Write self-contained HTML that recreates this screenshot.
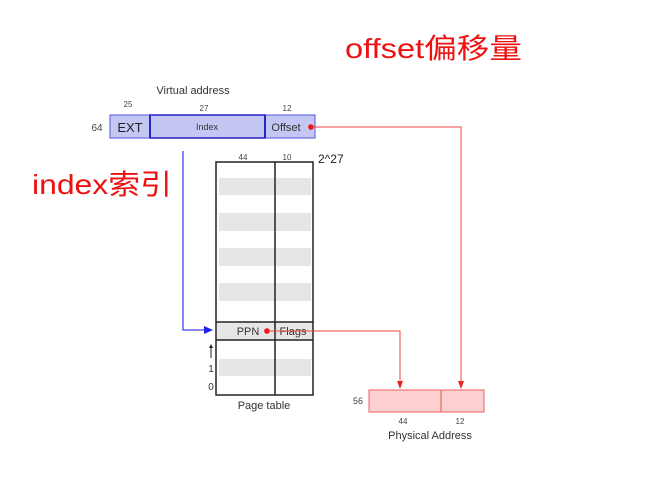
<!DOCTYPE html>
<html><head><style>
body{margin:0;background:#fff;width:646px;height:492px;overflow:hidden}
svg{display:block}
text{font-family:"Liberation Sans","DejaVu Sans",sans-serif}
</style></head><body>
<svg width="646" height="492" viewBox="0 0 646 492">
<text x="345" y="58" font-size="28" fill="#ee1111" textLength="177" lengthAdjust="spacingAndGlyphs" font-family="Liberation Sans,Noto Sans CJK SC,sans-serif">offset偏移量</text>
<text x="32" y="194" font-size="28" fill="#ee1111" textLength="140" lengthAdjust="spacingAndGlyphs" font-family="Liberation Sans,Noto Sans CJK SC,sans-serif">index索引</text>
<text x="193" y="94" font-size="11" fill="#333" text-anchor="middle">Virtual address</text>
<text x="128" y="107" font-size="8" fill="#444" text-anchor="middle">25</text>
<text x="204" y="111" font-size="8" fill="#444" text-anchor="middle">27</text>
<text x="287" y="111" font-size="8" fill="#444" text-anchor="middle">12</text>
<text x="97" y="131" font-size="10" fill="#444" text-anchor="middle">64</text>
<rect x="110" y="115" width="205" height="23" fill="#c4c6f4" stroke="#6a6ee0" stroke-width="1.2"/>
<line x1="150" y1="115" x2="150" y2="138" stroke="#2222bb" stroke-width="2"/>
<line x1="265" y1="115" x2="265" y2="138" stroke="#2222bb" stroke-width="2"/>
<rect x="150" y="115" width="115" height="23" fill="none" stroke="#2a2ac0" stroke-width="1.5"/>
<text x="130" y="132" font-size="13" fill="#222" text-anchor="middle">EXT</text>
<text x="207" y="130" font-size="9" fill="#333" text-anchor="middle">Index</text>
<text x="286" y="131" font-size="11" fill="#333" text-anchor="middle">Offset</text>
<g fill="#e6e6e6">
<rect x="219" y="178" width="92" height="17"/>
<rect x="219" y="213" width="92" height="18"/>
<rect x="219" y="248" width="92" height="18"/>
<rect x="219" y="283" width="92" height="18"/>
<rect x="217" y="322" width="96" height="18"/>
<rect x="219" y="359" width="92" height="17"/>
</g>
<rect x="216" y="162" width="97" height="233" fill="none" stroke="#222" stroke-width="1.5"/>
<line x1="275" y1="162" x2="275" y2="395" stroke="#222" stroke-width="1.5"/>
<line x1="216" y1="322" x2="313" y2="322" stroke="#222" stroke-width="1.5"/>
<line x1="216" y1="340" x2="313" y2="340" stroke="#222" stroke-width="1.5"/>
<text x="243" y="160" font-size="8" fill="#444" text-anchor="middle">44</text>
<text x="287" y="160" font-size="8" fill="#444" text-anchor="middle">10</text>
<text x="318" y="163" font-size="12" fill="#222">2^27</text>
<text x="248" y="335" font-size="11" fill="#333" text-anchor="middle">PPN</text>
<text x="293" y="335" font-size="11" fill="#333" text-anchor="middle">Flags</text>
<text x="211" y="372" font-size="10" fill="#333" text-anchor="middle">1</text>
<text x="211" y="390" font-size="10" fill="#333" text-anchor="middle">0</text>
<line x1="211" y1="346" x2="211" y2="358" stroke="#222" stroke-width="1"/>
<polygon points="209,348 213,348 211,344" fill="#222"/>
<text x="264" y="409" font-size="11" fill="#333" text-anchor="middle">Page table</text>
<polyline points="183,151 183,330 206,330" fill="none" stroke="#4444ee" stroke-width="1.3"/>
<polygon points="204,326 213,330 204,334" fill="#2222ee"/>
<circle cx="311" cy="127" r="2.8" fill="#ee1111"/>
<polyline points="311,127 461,127 461,382" fill="none" stroke="#ee4444" stroke-width="1"/>
<polygon points="458,381 464,381 461,389" fill="#ee2222"/>
<circle cx="267" cy="331" r="2.8" fill="#ee1111"/>
<polyline points="267,331 400,331 400,382" fill="none" stroke="#ee4444" stroke-width="1"/>
<polygon points="397,381 403,381 400,389" fill="#ee2222"/>
<rect x="369" y="390" width="115" height="22" fill="#fcd0d0" stroke="#ee7777" stroke-width="1.2"/>
<line x1="441" y1="390" x2="441" y2="412" stroke="#ee6666" stroke-width="1.2"/>
<text x="358" y="404" font-size="9" fill="#444" text-anchor="middle">56</text>
<text x="403" y="424" font-size="8" fill="#444" text-anchor="middle">44</text>
<text x="460" y="424" font-size="8" fill="#444" text-anchor="middle">12</text>
<text x="430" y="439" font-size="11" fill="#333" text-anchor="middle">Physical Address</text>
</svg>
</body></html>
